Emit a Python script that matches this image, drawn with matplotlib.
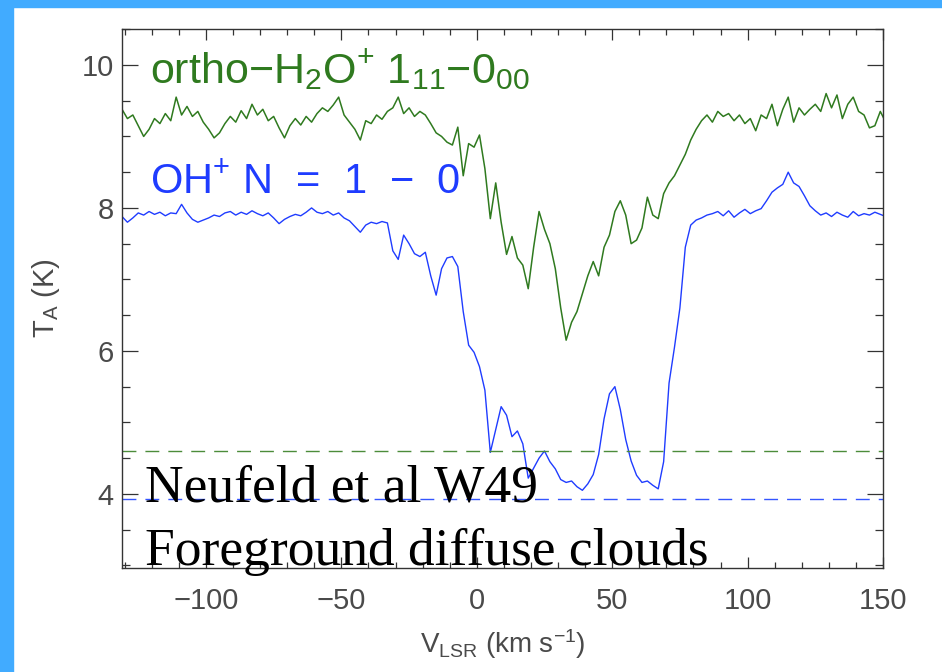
import numpy as np
import matplotlib
matplotlib.use("Agg")
import matplotlib.pyplot as plt
from matplotlib.patches import Rectangle
from matplotlib.ticker import MultipleLocator

plt.rcParams["font.family"] = ["Liberation Sans", "DejaVu Sans"]
plt.rcParams["mathtext.fontset"] = "custom"
plt.rcParams["mathtext.rm"] = "Liberation Sans"
plt.rcParams["mathtext.it"] = "Liberation Sans"
plt.rcParams["mathtext.default"] = "regular"

# channel velocities (km/s), 2 km/s steps from -131 to 151
velocity = np.arange(-131, 152, 2)

# ortho-H2O+ 1_11-0_00 antenna temperature (K)
h2o_plus = [
    9.38, 9.25, 9.30, 9.15, 9.00, 9.10, 9.25, 9.18, 9.32, 9.22,   # -131
    9.55, 9.30, 9.42, 9.28, 9.35, 9.20, 9.10, 8.98, 9.05, 9.18,   # -111
    9.28, 9.20, 9.36, 9.25, 9.45, 9.30, 9.38, 9.22, 9.28, 9.12,   # -91
    8.98, 9.15, 9.25, 9.16, 9.28, 9.20, 9.32, 9.40, 9.35, 9.44,   # -71
    9.55, 9.30, 9.20, 9.10, 8.95, 9.22, 9.18, 9.30, 9.24, 9.35,   # -51
    9.40, 9.55, 9.32, 9.40, 9.28, 9.35, 9.30, 9.18, 9.05, 9.00,   # -31
    8.92, 8.88, 9.13, 8.45, 8.90, 8.85, 9.02, 8.55, 7.85, 8.35,   # -11
    7.80, 7.35, 7.60, 7.30, 7.20, 6.87, 7.45, 7.95, 7.70, 7.50,   # 9
    7.15, 6.60, 6.15, 6.40, 6.55, 6.80, 7.05, 7.25, 7.05, 7.45,   # 29
    7.62, 7.95, 8.10, 7.90, 7.50, 7.55, 7.72, 8.15, 7.90, 7.85,   # 49
    8.20, 8.35, 8.45, 8.60, 8.75, 8.95, 9.10, 9.22, 9.30, 9.20,   # 69
    9.35, 9.28, 9.32, 9.22, 9.30, 9.18, 9.25, 9.08, 9.30, 9.25,   # 89
    9.45, 9.15, 9.38, 9.55, 9.20, 9.40, 9.30, 9.38, 9.45, 9.35,   # 109
    9.60, 9.40, 9.58, 9.25, 9.45, 9.55, 9.35, 9.30, 9.12, 9.15,   # 129
    9.35, 9.20,                                                   # 149
]

# OH+ N = 1-0 antenna temperature (K)
oh_plus = [
    7.88, 7.80, 7.86, 7.93, 7.90, 7.95, 7.91, 7.94, 7.89, 7.93,   # -131
    7.92, 8.05, 7.93, 7.84, 7.80, 7.83, 7.86, 7.90, 7.88, 7.93,   # -111
    7.95, 7.90, 7.94, 7.91, 7.96, 7.92, 7.89, 7.93, 7.86, 7.78,   # -91
    7.84, 7.88, 7.91, 7.89, 7.94, 8.00, 7.94, 7.92, 7.95, 7.90,   # -71
    7.93, 7.86, 7.82, 7.74, 7.66, 7.76, 7.80, 7.78, 7.81, 7.79,   # -51
    7.40, 7.28, 7.62, 7.50, 7.36, 7.32, 7.38, 7.05, 6.78, 7.15,   # -31
    7.30, 7.32, 7.18, 6.55, 6.08, 5.98, 5.78, 5.45, 4.58, 4.90,   # -11
    5.22, 5.10, 4.80, 4.88, 4.70, 4.22, 4.36, 4.50, 4.60, 4.45,   # 9
    4.35, 4.20, 4.16, 4.18, 4.10, 4.05, 4.14, 4.27, 4.55, 5.05,   # 29
    5.40, 5.50, 5.18, 4.76, 4.46, 4.26, 4.16, 4.18, 4.12, 4.07,   # 49
    4.45, 5.55, 6.05, 6.60, 7.45, 7.76, 7.83, 7.86, 7.90, 7.92,   # 69
    7.95, 7.89, 7.96, 7.87, 7.93, 7.98, 7.92, 7.96, 7.99, 8.10,   # 89
    8.22, 8.28, 8.33, 8.50, 8.35, 8.30, 8.17, 8.03, 7.96, 7.90,   # 109
    7.93, 7.88, 7.94, 7.90, 7.87, 7.95, 7.89, 7.92, 7.90, 7.94,   # 129
    7.91, 7.88,                                                   # 149
]

# continuum levels (dashed)
h2o_cont = 4.60
oh_cont = 3.93

green = "#2f7a1f"
blue = "#1f3cff"

fig = plt.figure(figsize=(9.42, 6.72), dpi=100)
fig.patch.set_facecolor("white")
fig.add_artist(Rectangle((0, 0), 13 / 942, 1, transform=fig.transFigure,
                         color="#41abff", zorder=0))
fig.add_artist(Rectangle((0, 1 - 7 / 672), 1, 7 / 672, transform=fig.transFigure,
                         color="#41abff", zorder=0))

ax = fig.add_axes([122 / 942, 1 - 567.5 / 672, 761 / 942, 539 / 672])

ax.plot(velocity, h2o_plus, color=green, lw=1.1)
ax.plot(velocity, oh_plus, color=blue, lw=1.0)
ax.axhline(h2o_cont, color="#4c8c3a", lw=1.0, ls=(0, (10, 6.5)))
ax.axhline(oh_cont, color="#3355ff", lw=1.0, ls=(0, (10, 6.5)))

ax.set_xlim(-131, 150)
ax.set_ylim(2.97, 10.51)
ax.set_xticks([-100, -50, 0, 50, 100, 150])
ax.xaxis.set_minor_locator(MultipleLocator(10))
ax.set_yticks([4, 6, 8, 10])
ax.yaxis.set_minor_locator(MultipleLocator(0.5))

for s in ax.spines.values():
    s.set_color("#333333")
    s.set_linewidth(1.0)
ax.tick_params(which="both", direction="in", top=True, right=True,
               color="#333333", width=0.9, labelcolor="#4a4a4a", labelsize=21)
ax.tick_params(axis="x", which="major", length=8, pad=14)
ax.tick_params(axis="x", which="minor", length=4)
ax.tick_params(axis="y", which="major", length=11.5, pad=6)
ax.tick_params(axis="y", which="minor", length=5.8)

ax.set_xlabel(r"V$_{LSR}$ (km s$^{-1}$)", fontsize=20, color="#4a4a4a", labelpad=9)
ax.set_ylabel(r"T$_A$ (K)", fontsize=21, color="#4a4a4a", labelpad=14)

ax.text(-120.7, 9.74, "ortho\u2212H$_2$O$^{+}$ 1$_{11}$\u22120$_{00}$",
        color=green, fontsize=31)
ax.text(-120.7, 8.2, "OH$^{+}$ N  =  1  \u2212  0", color=blue, fontsize=30)

ax.text(-122.5, 3.89, "Neufeld et al W49", family="Liberation Serif",
        fontsize=38.5, color="black", zorder=5, clip_on=False)
ax.text(-122.5, 3.01, "Foreground diffuse clouds", family="Liberation Serif",
        fontsize=38.5, color="black", zorder=5, clip_on=False)

plt.savefig("out.png", dpi=100, facecolor="white")
